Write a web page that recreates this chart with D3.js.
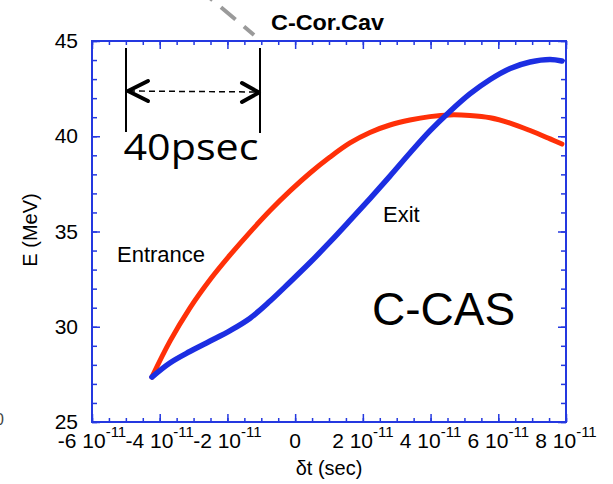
<!DOCTYPE html>
<html>
<head>
<meta charset="utf-8">
<script src="https://cdn.jsdelivr.net/npm/d3@7/dist/d3.min.js"></script>
<style>
  html, body { margin: 0; padding: 0; background: #fff; }
  svg { display: block; font-family: "Liberation Sans", Arial, sans-serif; }
</style>
</head>
<body>
<svg id="chart" width="613" height="484"></svg>
<script>
// Time offsets are in units of 1e-11 s, energies in MeV.
const sampleT = [-4.23, -3.70, -3.11, -2.51, -1.92, -1.33, -0.74, -0.15, 0.44, 1.03, 1.62, 2.21, 2.80, 3.39, 3.98, 4.57, 5.16, 5.76, 6.35, 6.94, 7.53, 7.88];
const entranceE = [27.36, 29.23, 30.98, 32.48, 33.77, 34.97, 36.10, 37.13, 38.07, 38.91, 39.65, 40.20, 40.59, 40.85, 41.03, 41.12, 41.09, 40.97, 40.69, 40.30, 39.86, 39.59];
const exitE = [27.36, 28.10, 28.70, 29.25, 29.80, 30.45, 31.35, 32.35, 33.37, 34.45, 35.58, 36.73, 37.91, 39.12, 40.28, 41.30, 42.22, 42.98, 43.56, 43.90, 44.03, 43.95];

const xTicks = [-6, -4, -2, 0, 2, 4, 6, 8];
const xTickMantissa = ["-6", "-4", "-2", "0", "2", "4", "6", "8"];
const xTickExponent = "-11";
const yTicks = [25, 30, 35, 40, 45];

const frameBlue = "#2438e0";
const red = "#ff3008";
const blue = "#1c2ee2";

const svg = d3.select("#chart");
const plotLeft = 92, plotRight = 566, plotTop = 41, plotBottom = 422;

const x = d3.scaleLinear().domain([-6, 8]).range([plotLeft, plotRight]);
const y = d3.scaleLinear().domain([25, 45]).range([plotBottom, plotTop]);

// Minor tick positions
const xMinor = d3.range(-6, 8.001, 0.5);
const yMinor = d3.range(25, 45.001, 1);

function styleAxis(g) {
  g.select(".domain").remove();
  g.selectAll("line").attr("stroke", frameBlue).attr("stroke-width", 1.5);
  g.selectAll("text").remove();
}

svg.append("g").attr("transform", `translate(0,${plotBottom})`)
  .call(d3.axisBottom(x).tickValues(xMinor).tickSize(-4)).call(styleAxis);
svg.append("g").attr("transform", `translate(0,${plotBottom})`)
  .call(d3.axisBottom(x).tickValues(xTicks).tickSize(-8)).call(styleAxis);
svg.append("g").attr("transform", `translate(0,${plotTop})`)
  .call(d3.axisTop(x).tickValues(xMinor).tickSize(-4)).call(styleAxis);
svg.append("g").attr("transform", `translate(0,${plotTop})`)
  .call(d3.axisTop(x).tickValues(xTicks).tickSize(-8)).call(styleAxis);

svg.append("g").attr("transform", `translate(${plotLeft},0)`)
  .call(d3.axisLeft(y).tickValues(yMinor).tickSize(-5)).call(styleAxis);
svg.append("g").attr("transform", `translate(${plotLeft},0)`)
  .call(d3.axisLeft(y).tickValues(yTicks).tickSize(-8)).call(styleAxis);
svg.append("g").attr("transform", `translate(${plotRight},0)`)
  .call(d3.axisRight(y).tickValues(yMinor).tickSize(-5)).call(styleAxis);
svg.append("g").attr("transform", `translate(${plotRight},0)`)
  .call(d3.axisRight(y).tickValues(yTicks).tickSize(-8)).call(styleAxis);

// Frame
svg.append("rect")
  .attr("x", plotLeft).attr("y", plotTop)
  .attr("width", plotRight - plotLeft).attr("height", plotBottom - plotTop)
  .attr("fill", "none").attr("stroke", frameBlue).attr("stroke-width", 2);

// Y tick labels
svg.append("g").selectAll("text").data(yTicks).join("text")
  .attr("x", plotLeft - 14).attr("y", d => y(d) + 7)
  .attr("text-anchor", "end").attr("font-size", 21).attr("fill", "#000")
  .text(d => d);

// X tick labels: mantissa followed by "10" with superscript exponent
const xl = svg.append("g").selectAll("text").data(xTicks).join("text")
  .attr("x", d => x(d)).attr("y", plotBottom + 26)
  .attr("text-anchor", "middle").attr("font-size", 21).attr("fill", "#000");
xl.each(function(d, i) {
  const t = d3.select(this);
  if (d === 0) { t.text("0"); return; }
  t.append("tspan").text(xTickMantissa[i] + " 10");
  t.append("tspan").attr("dy", -11).attr("font-size", 15).text(xTickExponent);
});

// Axis titles
svg.append("text").attr("x", 329).attr("y", 475)
  .attr("text-anchor", "middle").attr("font-size", 20).text("δt (sec)");
svg.append("text").attr("transform", "translate(37,230) rotate(-90)")
  .attr("text-anchor", "middle").attr("font-size", 20).text("E (MeV)");

// Curves
const line = d3.line().x(d => x(d[0])).y(d => y(d[1])).curve(d3.curveCatmullRom.alpha(0.5));
svg.append("path").datum(d3.zip(sampleT, entranceE))
  .attr("d", line).attr("fill", "none").attr("stroke", red)
  .attr("stroke-width", 5).attr("stroke-linecap", "round");
svg.append("path").datum(d3.zip(sampleT, exitE))
  .attr("d", line).attr("fill", "none").attr("stroke", blue)
  .attr("stroke-width", 5.5).attr("stroke-linecap", "round");

// Curve labels
svg.append("text").attr("x", 117).attr("y", 262).attr("font-size", 22).text("Entrance");
svg.append("text").attr("x", 383).attr("y", 222).attr("font-size", 22).text("Exit");
svg.append("text").attr("x", 372).attr("y", 325).attr("font-size", 46).text("C-CAS");

// Cavity tag and its gray dashed leader
svg.append("text").attr("x", 271).attr("y", 30)
  .attr("font-size", 22).attr("font-weight", "bold")
  .attr("textLength", 113).attr("lengthAdjust", "spacingAndGlyphs").text("C-Cor.Cav");
svg.append("line").attr("x1", 198).attr("y1", -12).attr("x2", 254).attr("y2", 35)
  .attr("stroke", "#9a9a9a").attr("stroke-width", 4).attr("stroke-dasharray", "19,11");

// 40 psec span marker
const span = svg.append("g").attr("stroke", "#000").attr("fill", "none");
span.append("line").attr("x1", 126).attr("x2", 126).attr("y1", 48).attr("y2", 132).attr("stroke-width", 2);
span.append("line").attr("x1", 260).attr("x2", 260).attr("y1", 48).attr("y2", 133).attr("stroke-width", 2);
span.append("line").attr("x1", 129).attr("x2", 257).attr("y1", 91).attr("y2", 92)
  .attr("stroke-width", 1.5).attr("stroke-dasharray", "6,4");
span.append("path").attr("d", "M148,81 L128,91 L148,101")
  .attr("stroke-width", 4).attr("stroke-linecap", "round").attr("stroke-linejoin", "round");
span.append("path").attr("d", "M242,83 L259,92.5 L242,102")
  .attr("stroke-width", 4).attr("stroke-linecap", "round").attr("stroke-linejoin", "round");
svg.append("text").attr("x", 123.5).attr("y", 160)
  .attr("font-family", "'Open Sans', 'Noto Sans', sans-serif")
  .attr("font-size", 36).attr("textLength", 135).attr("lengthAdjust", "spacingAndGlyphs")
  .text("40psec");

// Clipped label fragment at the left edge
svg.append("text").attr("x", 4).attr("y", 425).attr("text-anchor", "end")
  .attr("font-size", 16).attr("fill", "#444").text("0");
</script>
</body>
</html>
